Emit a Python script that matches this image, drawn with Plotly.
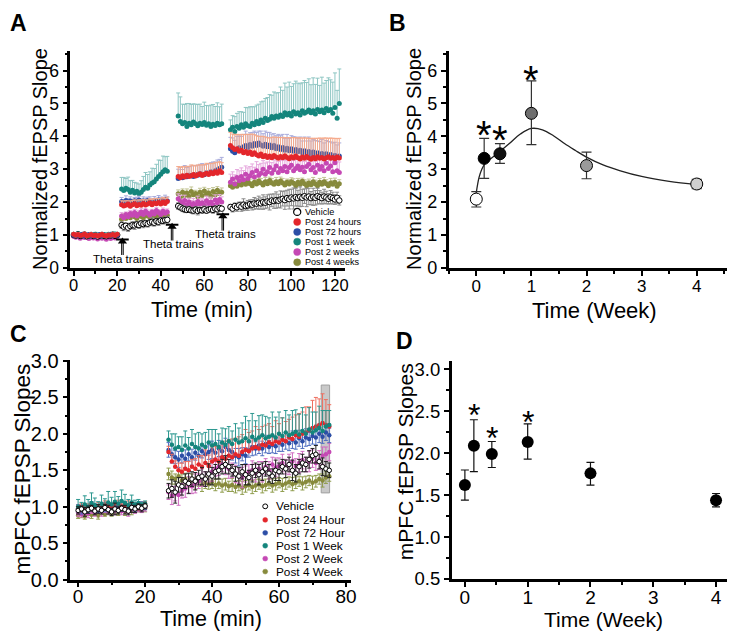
import plotly.graph_objects as go

W, H = 737, 641
OFF = 8  # default browser body margin around the plot div
FW, FH = W - OFF, H - OFF
FONT = "Liberation Sans, Arial, sans-serif"

# ======================= Panel A data (Normalized fEPSP slope vs time) =======================
a_time = list(range(0, 21)) + list(range(22, 44)) + list(range(48, 69)) + list(range(72, 123))

a_vehicle = [1.00,0.98,1.02,0.97,0.99,1.01,0.96,0.98,1.00,0.97, 0.99,0.95,0.98,1.00,0.97,0.96,0.99,0.98,1.01,0.97, 1.00,
             1.30,1.25,1.28,1.22,1.27,1.30,1.29,1.32,1.30,1.35, 1.33,1.36,1.34,1.38,1.40,1.37,1.42,1.40,1.44,1.43, 1.45,1.46,
             1.88,1.84,1.80,1.78,1.76,1.78,1.75,1.74,1.77,1.73, 1.76,1.75,1.78,1.74,1.77,1.79,1.76,1.80,1.78,1.82, 1.80,
             1.85,1.80,1.88,1.84,1.90,1.86,1.92,1.88,1.90,1.94, 1.92,1.96,1.95,1.98,1.96,2.00,1.98,2.02,2.00,2.05,
             2.03,2.06,2.04,2.08,2.10,2.06,2.12,2.09,2.14,2.11, 2.15,2.12,2.16,2.13,2.18,2.14,2.17,2.12,2.16,2.13,
             2.18,2.15,2.12,2.17,2.14,2.10,2.15,2.12,2.08,2.13, 2.05]
a_vehicle_err = [0.04,0.05,0.04,0.03,0.05,0.04,0.04,0.05,0.03,0.04, 0.05,0.04,0.03,0.04,0.05,0.04,0.04,0.03,0.05,0.04, 0.04,
                 0.10,0.12,0.08,0.11,0.09,0.10,0.12,0.08,0.10,0.09, 0.11,0.08,0.10,0.09,0.12,0.10,0.08,0.11,0.09,0.10, 0.08,0.10,
                 0.10,0.08,0.09,0.10,0.07,0.09,0.08,0.10,0.09,0.12, 0.08,0.09,0.10,0.08,0.09,0.07,0.10,0.08,0.09,0.08, 0.07,
                 0.08,0.10,0.09,0.12,0.10,0.14,0.18,0.12,0.15,0.13, 0.16,0.18,0.15,0.20,0.17,0.22,0.18,0.20,0.24,0.19,
                 0.22,0.25,0.20,0.26,0.22,0.28,0.24,0.30,0.25,0.32, 0.27,0.24,0.30,0.26,0.22,0.28,0.25,0.20,0.26,0.22,
                 0.24,0.20,0.18,0.22,0.19,0.16,0.20,0.18,0.15,0.17, 0.14]

a_24h = [1.02,0.99,1.01,0.98,1.00,1.03,0.97,0.99,1.01,0.98, 1.00,0.97,0.99,1.02,0.98,0.97,1.00,0.99,1.01,0.98, 1.02,
         1.92,1.88,1.90,1.94,1.87,1.92,1.95,1.89,1.93,1.90, 1.96,1.91,1.94,1.98,1.92,1.97,1.95,1.99,1.94,2.00, 1.96,2.02,
         2.78,2.74,2.80,2.76,2.82,2.78,2.80,2.84,2.79,2.83, 2.86,2.81,2.85,2.88,2.84,2.90,2.86,2.92,2.88,2.95, 2.90,
         3.72,3.65,3.60,3.62,3.55,3.58,3.50,3.54,3.48,3.52, 3.45,3.50,3.44,3.40,3.46,3.38,3.42,3.36,3.40,3.35,
         3.42,3.37,3.33,3.39,3.35,3.41,3.36,3.32,3.38,3.34, 3.40,3.35,3.31,3.37,3.33,3.39,3.34,3.30,3.36,3.32,
         3.38,3.33,3.36,3.31,3.35,3.38,3.33,3.36,3.32,3.37, 3.34]
a_24h_err = [0.05,0.04,0.06,0.05,0.04,0.05,0.06,0.04,0.05,0.05, 0.04,0.06,0.05,0.04,0.05,0.06,0.05,0.04,0.05,0.06, 0.05,
             0.12,0.15,0.14,0.10,0.16,0.13,0.12,0.15,0.14,0.16, 0.12,0.15,0.13,0.12,0.16,0.14,0.15,0.12,0.16,0.14, 0.15,0.13,
             0.30,0.32,0.28,0.31,0.27,0.30,0.33,0.28,0.31,0.30, 0.27,0.32,0.29,0.30,0.33,0.28,0.31,0.29,0.32,0.28, 0.30,
             0.40,0.42,0.45,0.44,0.50,0.48,0.55,0.52,0.58,0.54, 0.62,0.55,0.58,0.60,0.54,0.62,0.56,0.60,0.55,0.62,
             0.56,0.60,0.64,0.57,0.62,0.55,0.60,0.64,0.58,0.62, 0.56,0.60,0.64,0.58,0.62,0.56,0.60,0.64,0.58,0.62,
             0.56,0.62,0.58,0.64,0.60,0.56,0.62,0.58,0.62,0.56, 0.60]

a_72h = [0.99,1.01,0.98,1.00,1.02,0.97,0.99,1.01,0.98,1.00, 0.96,0.99,1.01,0.98,1.00,0.97,0.99,1.02,0.98,1.00, 0.99,
         2.02,1.98,2.05,2.00,2.03,1.97,2.04,2.01,2.06,1.99, 2.03,2.00,2.05,2.02,1.98,2.04,2.01,2.06,2.03,2.05, 2.08,2.04,
         2.72,2.76,2.74,2.79,2.77,2.82,2.80,2.78,2.84,2.82, 2.87,2.85,2.83,2.89,2.87,2.92,2.90,2.95,2.98,3.02, 3.06,
         3.62,3.55,3.50,3.58,3.65,3.60,3.68,3.72,3.66,3.75, 3.70,3.78,3.72,3.80,3.74,3.70,3.76,3.68,3.74,3.65,
         3.72,3.62,3.68,3.60,3.66,3.58,3.64,3.56,3.62,3.55, 3.60,3.53,3.58,3.50,3.56,3.48,3.54,3.46,3.52,3.45,
         3.50,3.44,3.48,3.42,3.47,3.40,3.45,3.38,3.42,3.36, 3.40]
a_72h_err = [0.04,0.05,0.04,0.03,0.05,0.04,0.06,0.04,0.05,0.04, 0.03,0.05,0.04,0.05,0.04,0.06,0.04,0.05,0.04,0.05, 0.04,
             0.12,0.10,0.14,0.11,0.13,0.12,0.10,0.14,0.12,0.11, 0.13,0.12,0.10,0.14,0.12,0.13,0.11,0.14,0.12,0.10, 0.13,0.12,
             0.28,0.30,0.25,0.32,0.28,0.26,0.30,0.33,0.27,0.30, 0.28,0.32,0.30,0.26,0.30,0.28,0.32,0.27,0.30,0.28, 0.30,
             0.35,0.40,0.38,0.42,0.36,0.40,0.38,0.44,0.40,0.36, 0.42,0.38,0.40,0.36,0.42,0.38,0.40,0.44,0.38,0.42,
             0.36,0.40,0.38,0.42,0.40,0.36,0.42,0.38,0.40,0.44, 0.38,0.42,0.40,0.36,0.42,0.38,0.44,0.40,0.38,0.42,
             0.36,0.40,0.42,0.38,0.40,0.44,0.38,0.42,0.40,0.38, 0.40]

a_1w = [1.01,0.99,1.03,0.98,1.00,1.02,0.99,0.97,1.01,0.99, 1.02,0.98,1.00,0.97,1.01,0.99,1.02,0.98,1.00,1.03, 1.01,
        2.40,2.35,2.42,2.38,2.30,2.36,2.28,2.33,2.25,2.30, 2.38,2.45,2.42,2.52,2.58,2.62,2.70,2.78,2.85,2.92, 2.98,2.94,
        4.62,4.45,4.38,4.42,4.30,4.40,4.35,4.44,4.38,4.32, 4.40,4.36,4.42,4.34,4.38,4.30,4.37,4.33,4.40,4.35, 4.38,
        4.20,4.28,4.15,4.30,4.25,4.35,4.28,4.38,4.32,4.30, 4.40,4.35,4.45,4.38,4.50,4.42,4.55,4.48,4.52,4.60,
        4.55,4.62,4.58,4.65,4.60,4.72,4.65,4.70,4.62,4.75, 4.68,4.72,4.65,4.78,4.70,4.74,4.80,4.72,4.78,4.68,
        4.82,4.75,4.80,4.72,4.85,4.78,4.82,4.70,4.88,4.55, 5.00]
a_1w_err = [0.05,0.06,0.04,0.05,0.07,0.05,0.04,0.06,0.05,0.04, 0.06,0.05,0.07,0.05,0.04,0.06,0.05,0.04,0.06,0.05, 0.05,
            0.35,0.40,0.30,0.38,0.35,0.30,0.32,0.25,0.30,0.35, 0.40,0.45,0.42,0.40,0.45,0.40,0.45,0.50,0.42,0.48, 0.40,0.45,
            0.70,0.75,0.60,0.55,0.70,0.60,0.62,0.55,0.60,0.65, 0.58,0.55,0.62,0.60,0.55,0.65,0.60,0.58,0.62,0.55, 0.60,
            0.30,0.35,0.45,0.40,0.50,0.40,0.45,0.50,0.55,0.60, 0.50,0.55,0.50,0.60,0.55,0.65,0.60,0.70,0.75,0.65,
            0.80,0.70,0.75,0.85,0.80,0.90,0.85,0.95,0.90,0.85, 1.00,0.90,0.95,0.85,1.00,0.90,0.95,0.85,1.00,0.90,
            0.95,0.80,1.00,0.90,0.85,1.00,0.90,0.95,1.05,0.85, 1.05]

a_2w = [0.96,0.93,0.98,0.90,0.95,0.92,0.97,0.89,0.94,0.91, 0.96,0.88,0.93,0.90,0.95,0.87,0.92,0.89,0.94,0.91, 0.95,
        1.58,1.52,1.62,1.55,1.65,1.60,1.68,1.58,1.64,1.70, 1.62,1.72,1.66,1.60,1.70,1.64,1.74,1.68,1.62,1.72, 1.66,1.70,
        2.10,2.02,1.95,2.05,1.92,2.00,1.88,1.96,1.90,2.02, 1.94,1.98,1.90,2.04,1.96,2.00,1.92,2.06,1.98,2.08, 2.00,
        2.60,2.70,2.55,2.75,2.65,2.78,2.68,2.85,2.72,2.80, 2.90,2.76,2.95,2.82,2.88,3.00,2.85,2.92,3.05,2.88,
        2.98,3.10,2.90,3.02,2.95,3.08,2.92,3.05,3.12,2.95, 3.02,3.10,2.98,3.06,2.92,3.08,3.15,2.98,3.05,2.90,
        3.12,3.00,3.08,2.95,3.18,3.02,3.10,2.92,3.20,2.95, 2.90]
a_2w_err = [0.04,0.05,0.03,0.05,0.04,0.06,0.04,0.05,0.04,0.03, 0.05,0.04,0.06,0.04,0.05,0.04,0.03,0.05,0.04,0.05, 0.04,
            0.10,0.12,0.08,0.11,0.09,0.12,0.10,0.08,0.11,0.10, 0.12,0.09,0.10,0.12,0.08,0.11,0.10,0.09,0.12,0.10, 0.11,0.09,
            0.15,0.18,0.14,0.16,0.15,0.12,0.17,0.15,0.14,0.16, 0.15,0.13,0.17,0.14,0.16,0.15,0.13,0.16,0.14,0.15, 0.16,
            0.25,0.22,0.28,0.24,0.30,0.26,0.28,0.25,0.32,0.28, 0.26,0.30,0.28,0.32,0.30,0.26,0.34,0.30,0.28,0.32,
            0.30,0.26,0.34,0.30,0.32,0.28,0.34,0.30,0.26,0.32, 0.30,0.28,0.34,0.30,0.32,0.28,0.26,0.32,0.30,0.34,
            0.28,0.32,0.30,0.34,0.26,0.30,0.32,0.34,0.28,0.30, 0.32]

a_4w = [0.97,1.00,0.95,0.98,0.96,0.99,0.94,0.97,1.00,0.95, 0.98,0.96,0.99,0.94,0.97,0.95,0.98,0.96,1.00,0.95, 0.98,
        1.48,1.55,1.50,1.58,1.52,1.60,1.55,1.50,1.62,1.56, 1.52,1.60,1.58,1.54,1.62,1.57,1.60,1.55,1.63,1.58, 1.65,1.60,
        2.25,2.15,2.30,2.20,2.28,2.18,2.32,2.22,2.26,2.16, 2.30,2.20,2.34,2.24,2.28,2.18,2.32,2.22,2.36,2.26, 2.30,
        2.50,2.45,2.55,2.48,2.58,2.52,2.60,2.54,2.62,2.56, 2.50,2.60,2.55,2.64,2.58,2.52,2.62,2.56,2.66,2.58,
        2.54,2.62,2.56,2.64,2.58,2.52,2.60,2.55,2.62,2.57, 2.50,2.60,2.54,2.63,2.56,2.50,2.58,2.53,2.62,2.55,
        2.50,2.60,2.54,2.62,2.56,2.50,2.58,2.54,2.60,2.48, 2.56]
a_4w_err = [0.04,0.03,0.05,0.04,0.03,0.04,0.05,0.03,0.04,0.04, 0.03,0.05,0.04,0.03,0.04,0.05,0.04,0.03,0.04,0.05, 0.04,
            0.08,0.10,0.07,0.09,0.08,0.10,0.07,0.09,0.08,0.10, 0.09,0.07,0.08,0.10,0.09,0.08,0.07,0.10,0.08,0.09, 0.08,0.10,
            0.12,0.14,0.10,0.13,0.12,0.11,0.14,0.12,0.10,0.13, 0.12,0.14,0.11,0.12,0.13,0.10,0.12,0.14,0.11,0.12, 0.13,
            0.12,0.14,0.10,0.13,0.12,0.15,0.11,0.13,0.12,0.14, 0.12,0.10,0.13,0.12,0.14,0.11,0.13,0.12,0.10,0.14,
            0.12,0.13,0.11,0.12,0.14,0.12,0.10,0.13,0.12,0.14, 0.11,0.12,0.13,0.10,0.12,0.14,0.12,0.11,0.13,0.12,
            0.14,0.12,0.10,0.13,0.12,0.11,0.14,0.12,0.13,0.10, 0.12]

a_labels = ["Vehicle", "Post 24 hours", "Post 72 hours", "Post 1 week", "Post 2 weeks", "Post 4 weeks"]
theta_x = [22.4, 45.2, 68.5]
theta_top = [0.80, 1.25, 1.57]
theta_bottom = [0.39, 0.83, 1.13]
theta_label_x = [23.0, 45.8, 69.7]
theta_label_y = [0.26, 0.72, 1.03]
theta_text = "Theta trains"

# ======================= Panel B data =======================
b_weeks = [0, 0.143, 0.429, 1, 2, 4]
b_mean = [2.09, 3.33, 3.47, 4.70, 3.11, 2.55]
b_err_plus = [0.23, 0.61, 0.31, 0.99, 0.41, 0.14]
b_err_minus = [0.24, 0.61, 0.29, 0.95, 0.40, 0.14]
b_fill = ["#ffffff", "#000000", "#111111", "#6e6e6e", "#9a9a9a", "#cfcfcf"]
b_fit_x = [0, 0.05, 0.1, 0.15, 0.25, 0.4, 0.6, 0.8, 1.0, 1.2, 1.4, 1.6, 1.8, 2.0, 2.3, 2.6, 3.0, 3.5, 4.0]
b_fit_y = [2.29, 2.75, 3.00, 3.15, 3.30, 3.50, 3.78, 4.07, 4.24, 4.20, 4.02, 3.78, 3.57, 3.37, 3.13, 2.96, 2.78, 2.63, 2.53]
b_star_x = [0.143, 0.429, 1]
b_star_y = [4.31, 4.15, 5.98]

# ======================= Panel C data (mPFC fEPSP slopes vs time) =======================
c_time = list(range(0, 21)) + list(range(27, 76))

c_vehicle = [0.95,0.97,0.93,0.96,0.98,0.94,0.97,0.95,0.99,0.96, 0.93,0.97,0.95,0.98,0.96,0.94,0.99,0.97,1.00,0.98, 1.01,
             1.22,1.25,1.20,1.30,1.28,1.35,1.32,1.38,1.35,1.40, 1.42,1.38,1.45,1.42,1.48,1.50,1.55,1.58,1.55,1.50,
             1.45,1.42,1.48,1.44,1.40,1.46,1.50,1.44,1.48,1.52, 1.46,1.42,1.50,1.48,1.55,1.52,1.58,1.50,1.46,1.55,
             1.60,1.58,1.65,1.70,1.72,1.62,1.55,1.52,1.50]
c_vehicle_err = [0.05,0.04,0.06,0.05,0.04,0.05,0.06,0.05,0.04,0.06, 0.05,0.08,0.05,0.04,0.06,0.05,0.07,0.05,0.04,0.05, 0.04,
                 0.10,0.12,0.15,0.10,0.12,0.10,0.14,0.10,0.12,0.10, 0.12,0.10,0.14,0.12,0.10,0.12,0.10,0.12,0.10,0.08,
                 0.10,0.12,0.10,0.14,0.10,0.12,0.10,0.14,0.12,0.10, 0.12,0.10,0.14,0.12,0.10,0.12,0.10,0.14,0.12,0.10,
                 0.12,0.10,0.12,0.10,0.12,0.10,0.12,0.10,0.10]

c_24h = [0.97,1.00,0.95,0.99,1.02,0.96,1.00,0.98,1.03,0.99, 1.01,0.97,1.04,1.00,0.98,1.02,0.99,1.01,0.98,1.00, 1.02,
         1.75,1.62,1.55,1.50,1.48,1.52,1.50,1.55,1.52,1.58, 1.55,1.60,1.56,1.62,1.65,1.62,1.68,1.66,1.70,1.68,
         1.72,1.70,1.75,1.78,1.76,1.80,1.82,1.80,1.85,1.84, 1.88,1.86,1.90,1.88,1.92,1.90,1.95,1.93,1.98,1.96,
         2.00,2.02,2.05,2.08,2.10,2.12,2.15,2.12,2.10]
c_24h_err = [0.05,0.04,0.06,0.05,0.04,0.05,0.06,0.04,0.05,0.05, 0.04,0.06,0.05,0.04,0.05,0.06,0.05,0.04,0.05,0.06, 0.05,
             0.08,0.10,0.08,0.10,0.12,0.10,0.12,0.10,0.14,0.12, 0.15,0.18,0.15,0.20,0.18,0.22,0.20,0.24,0.22,0.25,
             0.22,0.26,0.24,0.28,0.26,0.24,0.28,0.26,0.25,0.28, 0.26,0.24,0.28,0.26,0.30,0.27,0.25,0.30,0.28,0.32,
             0.30,0.35,0.32,0.38,0.40,0.36,0.40,0.35,0.30]

c_72h = [0.98,0.96,1.00,0.97,1.01,0.99,0.96,1.00,0.98,1.02, 0.99,1.01,0.97,1.00,1.02,0.98,1.01,0.99,1.00,1.02, 1.00,
         1.78,1.72,1.68,1.65,1.70,1.66,1.72,1.68,1.74,1.70, 1.76,1.72,1.75,1.78,1.74,1.80,1.76,1.82,1.78,1.75,
         1.70,1.68,1.72,1.70,1.78,1.82,1.80,1.84,1.80,1.86, 1.82,1.85,1.83,1.88,1.85,1.90,1.87,1.92,1.88,1.94,
         1.90,1.95,1.93,1.97,1.95,2.00,1.96,2.02,1.98]
c_72h_err = [0.05,0.06,0.04,0.05,0.06,0.05,0.04,0.06,0.05,0.04, 0.06,0.05,0.04,0.06,0.05,0.04,0.05,0.06,0.04,0.05, 0.04,
             0.10,0.12,0.09,0.11,0.10,0.12,0.09,0.11,0.10,0.12, 0.09,0.11,0.10,0.12,0.09,0.11,0.10,0.12,0.09,0.11,
             0.10,0.12,0.09,0.11,0.10,0.12,0.09,0.11,0.10,0.12, 0.09,0.11,0.10,0.12,0.09,0.11,0.10,0.12,0.09,0.11,
             0.10,0.12,0.09,0.11,0.10,0.12,0.09,0.11,0.10]

c_1w = [1.00,0.98,1.03,1.00,1.05,1.02,0.99,1.04,1.01,1.06, 1.03,1.07,1.04,1.08,1.05,1.02,1.06,1.03,1.05,1.02, 1.04,
        1.92,1.85,1.80,1.82,1.78,1.84,1.80,1.86,1.82,1.80, 1.85,1.82,1.88,1.84,1.86,1.82,1.88,1.85,1.90,1.86,
        1.92,1.88,1.90,1.94,1.90,1.96,1.92,1.95,1.98,1.94, 1.96,1.98,1.95,2.00,1.97,2.02,1.98,2.00,2.03,1.99,
        2.04,2.00,2.06,2.02,2.05,2.08,2.04,2.10,2.12]
c_1w_err = [0.10,0.08,0.12,0.10,0.14,0.10,0.08,0.12,0.10,0.15, 0.10,0.14,0.10,0.15,0.12,0.08,0.10,0.06,0.05,0.04, 0.04,
            0.12,0.15,0.20,0.14,0.18,0.20,0.15,0.20,0.18,0.22, 0.15,0.20,0.18,0.22,0.20,0.18,0.20,0.22,0.20,0.18,
            0.22,0.20,0.25,0.30,0.28,0.32,0.26,0.30,0.28,0.30, 0.26,0.32,0.28,0.30,0.25,0.30,0.28,0.32,0.30,0.28,
            0.32,0.26,0.30,0.28,0.25,0.30,0.28,0.22,0.20]

c_2w = [0.92,0.90,0.94,0.91,0.95,0.92,0.96,0.93,0.97,0.94, 0.98,0.95,0.97,0.94,0.96,0.93,0.97,0.95,0.98,0.96, 0.99,
        1.20,1.15,1.18,1.16,1.22,1.25,1.30,1.28,1.32,1.35, 1.40,1.38,1.45,1.48,1.52,1.55,1.58,1.55,1.52,1.50,
        1.45,1.42,1.40,1.45,1.48,1.50,1.46,1.52,1.48,1.55, 1.50,1.58,1.54,1.56,1.60,1.55,1.58,1.62,1.56,1.60,
        1.64,1.58,1.62,1.66,1.60,1.64,1.70,1.72,1.75]
c_2w_err = [0.05,0.04,0.05,0.06,0.04,0.05,0.04,0.06,0.05,0.04, 0.05,0.06,0.04,0.05,0.04,0.06,0.05,0.04,0.05,0.04, 0.05,
            0.10,0.12,0.10,0.14,0.10,0.12,0.11,0.10,0.13,0.10, 0.12,0.10,0.11,0.13,0.10,0.12,0.10,0.11,0.13,0.10,
            0.12,0.10,0.14,0.11,0.10,0.13,0.12,0.10,0.14,0.11, 0.12,0.10,0.13,0.11,0.12,0.10,0.14,0.12,0.10,0.13,
            0.12,0.10,0.14,0.12,0.10,0.13,0.12,0.10,0.12]

c_4w = [0.88,0.90,0.87,0.91,0.89,0.92,0.88,0.93,0.90,0.94, 0.91,0.95,0.92,0.96,0.93,0.97,0.94,0.98,0.96,0.99, 0.98,
        1.45,1.40,1.38,1.42,1.36,1.38,1.34,1.36,1.32,1.35, 1.30,1.33,1.31,1.34,1.30,1.32,1.29,1.31,1.28,1.30,
        1.27,1.29,1.26,1.28,1.30,1.27,1.29,1.31,1.28,1.30, 1.32,1.29,1.31,1.33,1.30,1.32,1.34,1.31,1.33,1.35,
        1.32,1.34,1.36,1.33,1.35,1.38,1.36,1.40,1.42]
c_4w_err = [0.04,0.05,0.04,0.03,0.05,0.04,0.05,0.04,0.03,0.05, 0.04,0.05,0.04,0.03,0.05,0.04,0.05,0.04,0.03,0.04, 0.05,
            0.08,0.09,0.07,0.08,0.09,0.08,0.07,0.09,0.08,0.07, 0.09,0.08,0.07,0.09,0.08,0.07,0.09,0.08,0.07,0.09,
            0.08,0.07,0.09,0.08,0.07,0.09,0.08,0.07,0.09,0.08, 0.07,0.09,0.08,0.07,0.09,0.08,0.07,0.09,0.08,0.07,
            0.09,0.08,0.07,0.09,0.08,0.07,0.09,0.08,0.07]

c_labels = ["Vehicle", "Post 24 Hour", "Post 72 Hour", "Post 1 Week", "Post 2 Week", "Post 4 Week"]
c_highlight_x = [72.6, 75.1]
c_highlight_y = [1.19, 2.67]

# ======================= Panel D data =======================
d_weeks = [0, 0.143, 0.429, 1, 2, 4]
d_mean = [1.62, 2.09, 1.99, 2.135, 1.76, 1.44]
d_err_plus = [0.18, 0.31, 0.15, 0.215, 0.13, 0.08]
d_err_minus = [0.18, 0.31, 0.16, 0.205, 0.14, 0.08]
d_star_x = [0.143, 0.429, 1]
d_star_y = [2.54, 2.27, 2.46]

# ======================= styling =======================
col_red, col_blue, col_teal, col_pink, col_olive = "#e3262b", "#2c4ea6", "#14857c", "#c548b4", "#878a3c"
a_err_cols = ["#8a8a8a", "#f5a98a", "#a9acdc", "#8ec6c3", "#e6a9de", "#c3c596"]
c_err_cols = ["#222222", "#ef6f5f", "#4f6fc0", "#2d9890", "#d06cc2", "#8f9c4c"]
series_cols = ["#ffffff", col_red, col_blue, col_teal, col_pink, col_olive]

fig = go.Figure()


def add_pts(x, y, err, color, errcol, xa, ya, size, sym, outline=False):
    ey = dict(type="data", array=err, color=errcol, thickness=1, width=2)
    if sym:
        ey["symmetric"] = True
    else:
        ey["symmetric"] = False
        ey["arrayminus"] = [0] * len(err)
    fig.add_trace(go.Scatter(
        x=x, y=y, mode="markers", xaxis=xa, yaxis=ya, showlegend=False,
        marker=dict(color=color, size=size,
                    line=dict(color="#000000", width=1) if outline else dict(width=0)),
        error_y=ey))


# Panel A
a_series = [a_vehicle, a_24h, a_72h, a_1w, a_2w, a_4w]
a_errs = [a_vehicle_err, a_24h_err, a_72h_err, a_1w_err, a_2w_err, a_4w_err]
for i in [5, 4, 0, 3, 2, 1]:
    add_pts(a_time, a_series[i], a_errs[i], series_cols[i], a_err_cols[i], "x", "y",
            5.5 if i == 0 else 5, sym=(i == 0), outline=(i == 0))

# theta-train markers
fig.add_trace(go.Scatter(x=theta_x, y=theta_top, mode="markers", xaxis="x", yaxis="y",
                         showlegend=False, marker=dict(symbol="triangle-up", size=8, color="black")))
fig.add_trace(go.Scatter(x=theta_x, y=[v + 0.06 for v in theta_top], mode="markers", xaxis="x", yaxis="y",
                         showlegend=False,
                         marker=dict(symbol="line-ew", size=9, line=dict(color="black", width=2))))

# Panel B
fig.add_trace(go.Scatter(x=b_fit_x, y=b_fit_y, mode="lines", xaxis="x2", yaxis="y2", showlegend=False,
                         line=dict(color="#222222", width=1.3, shape="spline", smoothing=1.0)))
fig.add_trace(go.Scatter(x=b_weeks, y=b_mean, mode="markers", xaxis="x2", yaxis="y2", showlegend=False,
                         marker=dict(color=b_fill, size=12, line=dict(color="black", width=1)),
                         error_y=dict(type="data", symmetric=False, array=b_err_plus, arrayminus=b_err_minus,
                                      color="#333333", thickness=1.2, width=5)))

# Panel C
c_series = [c_vehicle, c_24h, c_72h, c_1w, c_2w, c_4w]
c_errs = [c_vehicle_err, c_24h_err, c_72h_err, c_1w_err, c_2w_err, c_4w_err]
for i in [5, 4, 2, 1, 3, 0]:
    add_pts(c_time, c_series[i], c_errs[i], series_cols[i], c_err_cols[i], "x3", "y3",
            4.5, sym=(i not in (1, 3)), outline=(i == 0))

# Panel D
fig.add_trace(go.Scatter(x=d_weeks, y=d_mean, mode="markers", xaxis="x4", yaxis="y4", showlegend=False,
                         marker=dict(color="black", size=12),
                         error_y=dict(type="data", symmetric=False, array=d_err_plus, arrayminus=d_err_minus,
                                      color="#111111", thickness=1.2, width=4)))


def px_x(v):
    return (v - OFF) / FW


def px_y(v):
    return 1 - (v - OFF) / FH


def axis(domain, rng, dtick, minor, size, anchor, fmt=None, tickvals=None, standoff=0):
    d = dict(domain=domain, range=rng, anchor=anchor, showline=True, linewidth=2.6, linecolor="black",
             ticks="outside", ticklen=5, tickwidth=2, tickcolor="black", showgrid=False, zeroline=False,
             tickfont=dict(family=FONT, size=size, color="black"), ticklabelstandoff=standoff,
             minor=dict(ticks="outside", ticklen=3, tickwidth=1.5, tickcolor="black", dtick=minor, showgrid=False))
    if tickvals is not None:
        d["tickmode"] = "array"
        d["tickvals"] = tickvals
    else:
        d["dtick"] = dtick
        d["tick0"] = 0
    if fmt:
        d["tickformat"] = fmt
    return d


dom_a_x = [px_x(70), px_x(347)]
dom_ab_y = [px_y(267), px_y(43)]
dom_b_x = [px_x(452), px_x(733)]
dom_c_x = [px_x(70), px_x(353)]
dom_c_y = [px_y(589), px_y(361.7)]
dom_d_x = [px_x(455), px_x(733.3)]
dom_d_y = [px_y(588.3), px_y(363.3)]

layout = dict(
    width=FW, height=FH, autosize=False, margin=dict(l=0, r=0, t=0, b=0),
    paper_bgcolor="white", plot_bgcolor="white",
    xaxis=axis(dom_a_x, [-1.5, 124.5], 20, 10, 16.5, "y", tickvals=[0, 20, 40, 60, 80, 100, 120], standoff=-4),
    yaxis=axis(dom_ab_y, [0, 6.6], 1, 0.5, 17.5, "x"),
    xaxis2=axis(dom_b_x, [-0.5, 4.55], 1, 0.5, 17, "y2", standoff=-4),
    yaxis2=axis(dom_ab_y, [0, 6.6], 1, 0.5, 18, "x2"),
    xaxis3=axis(dom_c_x, [-2.3, 81.4], 20, 10, 19, "y3", standoff=-7),
    yaxis3=axis(dom_c_y, [0, 3.02], 0.5, 0.25, 20, "x3", fmt=".1f"),
    xaxis4=axis(dom_d_x, [-0.21, 4.18], 1, 0.5, 19, "y4", standoff=-6),
    yaxis4=axis(dom_d_y, [0.5, 3.1], 0.5, 0.25, 18.5, "x4", fmt=".1f"),
)
fig.update_layout(**layout)

ann = []
shapes = []


def txt(text, x, y, size, xanchor="center", yanchor="middle", angle=0, bold=False):
    ann.append(dict(text=("<b>%s</b>" % text) if bold else text, x=px_x(x), y=px_y(y),
                    xref="paper", yref="paper", showarrow=False, textangle=angle,
                    xanchor=xanchor, yanchor=yanchor,
                    font=dict(family=FONT, size=size, color="black")))


# panel letters
txt("A", 18, 14, 23, bold=True)
txt("B", 400, 14, 23, bold=True)
txt("C", 18, 335, 23, bold=True)
txt("D", 407, 343, 23, bold=True)

# axis titles
txt("Normalized fEPSP Slope", 40, 155, 20, angle=-90)
txt("Time (min)", 203, 311, 21.5)
txt("Normalized fEPSP Slope", 417.5, 155, 20, angle=-90)
txt("Time (Week)", 599, 311, 22)
txt("mPFC fEPSP Slopes", 21.5, 475, 22.5, angle=-90)
txt("Time (min)", 212, 630, 21.5)
txt("mPFC fEPSP Slopes", 408.5, 467, 21, angle=-90)
txt("Time (Week)", 608, 630, 21)

# theta train labels and double shafts
for xv, yt, yb, lx, ly in zip(theta_x, theta_top, theta_bottom, theta_label_x, theta_label_y):
    ann.append(dict(text=theta_text, x=lx, y=ly, xref="x", yref="y", showarrow=False,
                    font=dict(family=FONT, size=11.5, color="black")))
    for dx in (-0.35, 0.35):
        shapes.append(dict(type="line", xref="x", yref="y", x0=xv + dx, x1=xv + dx, y0=yb, y1=yt,
                           line=dict(color="black", width=1)))

# asterisks
for xv, yv in zip(b_star_x, b_star_y):
    ann.append(dict(text="*", x=xv, y=yv, xref="x2", yref="y2", showarrow=False, yshift=-9,
                    font=dict(family=FONT, size=40, color="black")))
for xv, yv in zip(d_star_x, d_star_y):
    ann.append(dict(text="*", x=xv, y=yv, xref="x4", yref="y4", showarrow=False, yshift=-7,
                    font=dict(family=FONT, size=32, color="black")))

# custom legends
a_leg_rows = [209.3, 219.7, 230.0, 240.0, 250.7, 261.3]
for i, (lab, ry) in enumerate(zip(a_labels, a_leg_rows)):
    r = 3.6
    shapes.append(dict(type="circle", xref="paper", yref="paper",
                       x0=px_x(299 - r), x1=px_x(299 + r), y0=px_y(ry + r), y1=px_y(ry - r),
                       fillcolor=series_cols[i], line=dict(color="black" if i == 0 else series_cols[i], width=1.2 if i == 0 else 0.5)))
    txt(lab, 305, ry, 9.1, xanchor="left")

c_leg_rows = [513.3, 527.3, 540.7, 554.0, 567.3, 580.7]
for i, (lab, ry) in enumerate(zip(c_labels, c_leg_rows)):
    r = 2.5
    shapes.append(dict(type="circle", xref="paper", yref="paper",
                       x0=px_x(266.7 - r), x1=px_x(266.7 + r), y0=px_y(ry + r), y1=px_y(ry - r),
                       fillcolor=series_cols[i], line=dict(color="black" if i == 0 else series_cols[i], width=1 if i == 0 else 0.5)))
    txt(lab, 276, ry, 11.8, xanchor="left")

# highlight window in C
shapes.append(dict(type="rect", xref="x3", yref="y3", x0=c_highlight_x[0], x1=c_highlight_x[1],
                   y0=c_highlight_y[0], y1=c_highlight_y[1], fillcolor="#c9c9c9",
                   line=dict(color="#a0a0a0", width=1), layer="below"))

fig.update_layout(annotations=ann, shapes=shapes)
fig.write_html("out.html")
